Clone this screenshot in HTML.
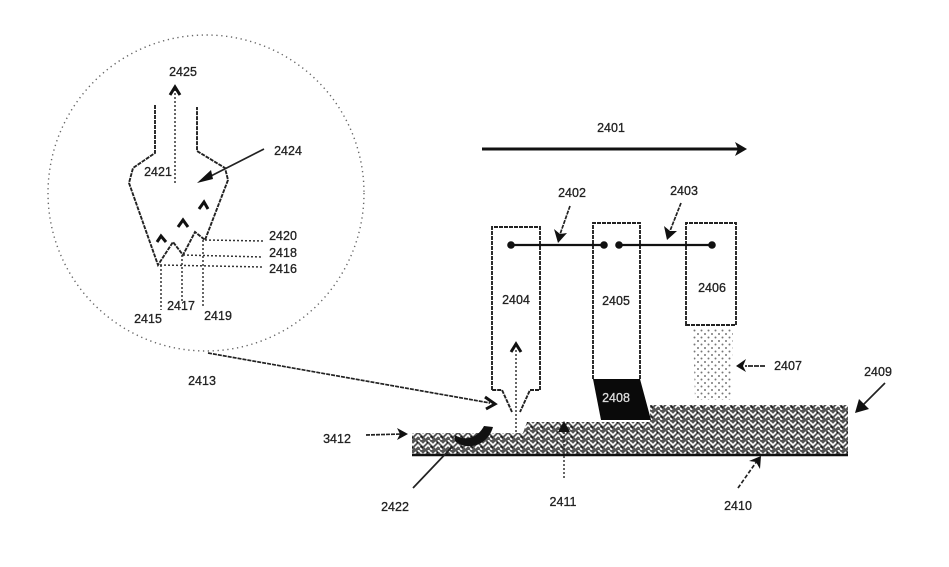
<!DOCTYPE html>
<html><head><meta charset="utf-8"><style>
html,body{margin:0;padding:0;background:#fff;width:949px;height:567px;overflow:hidden}
svg{display:block;filter:blur(.35px)}
text{font-family:"Liberation Sans",sans-serif;font-size:12.5px;fill:#222;stroke:#222;stroke-width:.3;text-anchor:middle}
.d{fill:none;stroke:#333;stroke-width:1.5;stroke-dasharray:2 2}
.s{fill:none;stroke:#222;stroke-width:1.9;stroke-dasharray:4 1}
.a{fill:none;stroke:#111;stroke-width:3}
.l{fill:none;stroke:#222;stroke-width:1.7}
</style></head><body>
<svg width="949" height="567" viewBox="0 0 949 567" xmlns="http://www.w3.org/2000/svg">
<defs>
<pattern id="mz" width="10" height="10" patternUnits="userSpaceOnUse">
<rect width="10" height="10" fill="#555"/>
<path d="M0 2L3 5L6 2M5 8L8 5L10 7M0 8L2 10M8 0L10 2" stroke="#fff" stroke-width="1.6" fill="none"/>
<path d="M1 6L3 8M7 2L8 3" stroke="#111" stroke-width="1.2" fill="none"/>
</pattern>
<pattern id="st" width="7" height="7" patternUnits="userSpaceOnUse">
<circle cx="1.5" cy="1.5" r="1" fill="#777"/><circle cx="5" cy="5" r="1" fill="#777"/>
</pattern>
</defs>
<rect width="949" height="567" fill="#fff"/>

<!-- detail circle -->
<circle cx="206" cy="193" r="158" fill="none" stroke="#666" stroke-width="1.4" stroke-dasharray="1.3 3.6"/>

<!-- funnel -->
<path class="s" d="M155 105V153L133 168L129 183L158 265L173 242L183 255L195 232L205 240L228 180L225 168L197 151V107"/>
<path class="d" d="M175 183V90"/>
<path class="a" d="M170 95L175 87L180 95"/>
<path class="d" d="M161 265V310M182 255V303M203 240V306"/>
<path class="a" d="M157 242L161 236L166 242M178 227L183 220L188 227M199 209L204 202L208 209"/>
<path class="d" d="M205 240L263 241M183 255L263 257M160 265L263 267"/>
<path class="l" d="M264 149L205 179" stroke-width="2"/>
<path d="M197 183L211 170L213 179Z" fill="#111"/>

<text x="183" y="76">2425</text>
<text x="288" y="155">2424</text>
<text x="158" y="176">2421</text>
<text x="283" y="240">2420</text>
<text x="283" y="257">2418</text>
<text x="283" y="273">2416</text>
<text x="181" y="310">2417</text>
<text x="148" y="323">2415</text>
<text x="218" y="320">2419</text>
<text x="202" y="385">2413</text>

<!-- long pointer -->
<path class="l" d="M208 353L490 403" stroke-dasharray="4 1" stroke-width="1.8"/>
<path class="a" d="M485 397L495 404L486 409" stroke-width="2.6"/>

<!-- substrate -->
<path d="M412 433H523L527 422H650V405H848V455H412Z" fill="url(#mz)"/>
<path d="M412 455H848" stroke="#111" stroke-width="2.6"/>
<path d="M455 435C462 440 476 441 484 426L493 427C488 445 468 452 455 441Z" fill="#111"/>

<!-- arrow 2401 -->
<path d="M482 149H742" stroke="#111" stroke-width="3"/>
<path d="M735 142L747 149L735 156L738 149Z" fill="#111"/>
<text x="611" y="132">2401</text>

<!-- heads -->
<path class="s" d="M492 390V227H540V390H530L520 412M512 412L502 390H492" stroke-dasharray="3 2"/>
<path class="s" d="M593 379V223H640V379" stroke-dasharray="3 2"/>
<path class="s" d="M686 325V223H736V325Z" stroke-dasharray="3 2"/>
<path d="M693 328H733L731 400H695Z" fill="url(#st)"/>
<path d="M593 379H640L651 420H601Z" fill="#0a0a0a"/>
<text x="616" y="402" style="fill:#ddd;stroke:#ddd">2408</text>

<!-- bars -->
<path d="M511 245H604M619 245H712" stroke="#111" stroke-width="2.2"/>
<circle cx="511" cy="245" r="3.8" fill="#111"/><circle cx="604" cy="245" r="3.8" fill="#111"/>
<circle cx="619" cy="245" r="3.8" fill="#111"/><circle cx="712" cy="245" r="3.8" fill="#111"/>
<path class="l" d="M570 206L558 240" stroke-dasharray="4 1"/>
<path d="M554 229L558 243L567 233L560 234Z" fill="#111"/>
<path class="l" d="M681 203L668 236" stroke-dasharray="4 1"/>
<path d="M664 226L667 240L677 231L670 231Z" fill="#111"/>
<text x="572" y="197">2402</text>
<text x="684" y="195">2403</text>
<text x="516" y="304">2404</text>
<text x="616" y="305">2405</text>
<text x="712" y="292">2406</text>

<!-- inner dotted of 2404 -->
<path class="d" d="M516 350V432"/>
<path class="a" d="M511 352L516 344L521 352"/>

<!-- callouts -->
<path class="l" d="M765 366H745" stroke-dasharray="5 1"/>
<path d="M746 359L736 366L746 372L743 366Z" fill="#111"/>
<text x="788" y="370">2407</text>
<text x="878" y="376">2409</text>
<path class="l" d="M885 383L860 408"/>
<path d="M855 413L859 399L869 409Z" fill="#111"/>
<text x="337" y="443">3412</text>
<path class="l" d="M366 435L402 434" stroke-dasharray="4 1"/>
<path d="M397 428L408 434L397 440L400 434Z" fill="#111"/>
<path class="l" d="M413 488L452 447"/>
<text x="395" y="511">2422</text>
<path class="d" d="M564 478V428"/>
<path d="M558 432L564 421L570 432Z" fill="#111"/>
<text x="563" y="506">2411</text>
<path class="l" d="M738 488L757 461" stroke-dasharray="4 2"/>
<path d="M749 461L761 456L760 469L756 462Z" fill="#111"/>
<text x="738" y="510">2410</text>
</svg>
</body></html>
